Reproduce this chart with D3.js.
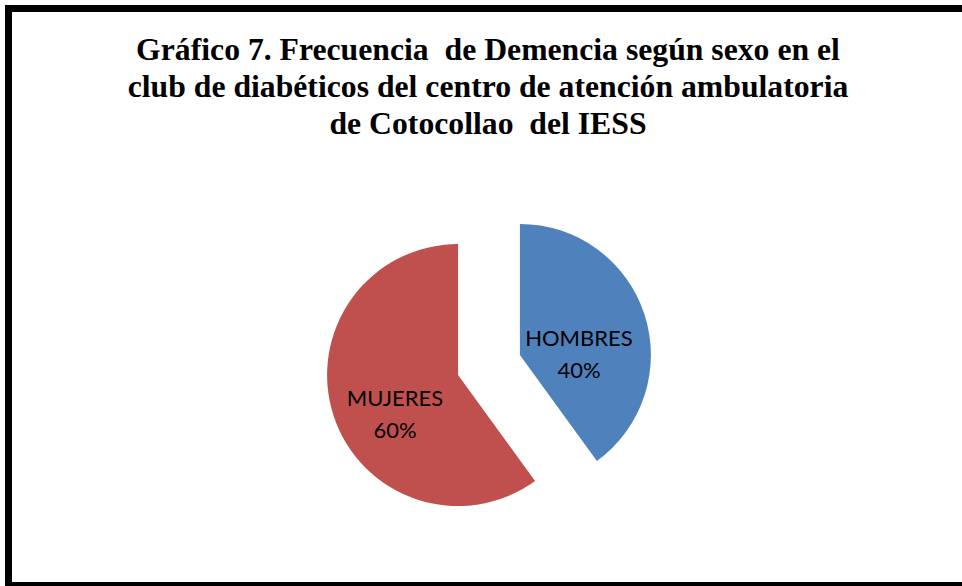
<!DOCTYPE html>
<html>
<head>
<meta charset="utf-8">
<script src="https://cdn.jsdelivr.net/npm/d3@7"></script>
<style>
  html, body { margin: 0; padding: 0; background: #fff; }
  svg { display: block; }
</style>
</head>
<body>
<svg id="chart" width="962" height="586"></svg>
<script>
const titleLines = [
  "Gráfico 7. Frecuencia  de Demencia según sexo en el",
  "club de diabéticos del centro de atención ambulatoria",
  "de Cotocollao  del IESS"
];
const categories = ["HOMBRES", "MUJERES"];
const values = [40, 60];
const colors = ["#4F81BD", "#C0504D"];

const svg = d3.select("#chart");
const W = 962, H = 586;

svg.append("rect").attr("x", 0).attr("y", 0).attr("width", W).attr("height", H).attr("fill", "#fff");

// frame
svg.append("rect")
  .attr("x", 8.5).attr("y", 8.5)
  .attr("width", 1000).attr("height", 577)
  .attr("fill", "none").attr("stroke", "#000").attr("stroke-width", 7);

// title
const cx = 488;
const tg = svg.append("g");
const baselines = [60, 97, 134];
const tEls = titleLines.map((t, i) => tg.append("text")
  .attr("x", 0).attr("y", baselines[i])
  .attr("text-anchor", "middle")
  .attr("font-family", "'Liberation Serif', 'Times New Roman', serif")
  .attr("font-weight", "bold")
  .attr("font-size", 32)
  .attr("fill", "#000")
  .style("white-space", "pre")
  .text(t));
const w2 = tEls[1].node().getComputedTextLength();
const sx = 721 / w2;
tg.attr("transform", `translate(${cx},0) scale(${sx},1)`);

// pie
const center = [489, 365];
const R = 131;
const explode = 32.5;
const pie = d3.pie().sort(null).value(d => d.v);
const arcs = pie(categories.map((c, i) => ({ c, v: values[i], col: colors[i] })));
const arc = d3.arc().innerRadius(0).outerRadius(R);
const labelArc = d3.arc().innerRadius(R * 0.49).outerRadius(R * 0.49);

const g = svg.append("g").attr("transform", `translate(${center[0]},${center[1]})`);
const slices = g.selectAll("g.slice").data(arcs).join("g")
  .attr("class", "slice")
  .attr("transform", d => {
    const a = (d.startAngle + d.endAngle) / 2;
    return `translate(${explode * Math.sin(a)},${-explode * Math.cos(a)})`;
  });
slices.append("path").attr("d", arc).attr("fill", d => d.data.col);

const total = d3.sum(values);
slices.each(function(d) {
  const [lx, ly] = labelArc.centroid(d);
  const t = d3.select(this).append("text")
    .attr("text-anchor", "middle")
    .attr("font-family", "Lato, 'Open Sans', sans-serif")
    .attr("font-size", 22)
    .attr("fill", "#000");
  t.append("tspan").attr("x", lx - 2).attr("y", ly + 11).text(d.data.c);
  t.append("tspan").attr("x", lx - 2).attr("y", ly + 43).text(Math.round(d.data.v / total * 100) + "%");
});
</script>
</body>
</html>
